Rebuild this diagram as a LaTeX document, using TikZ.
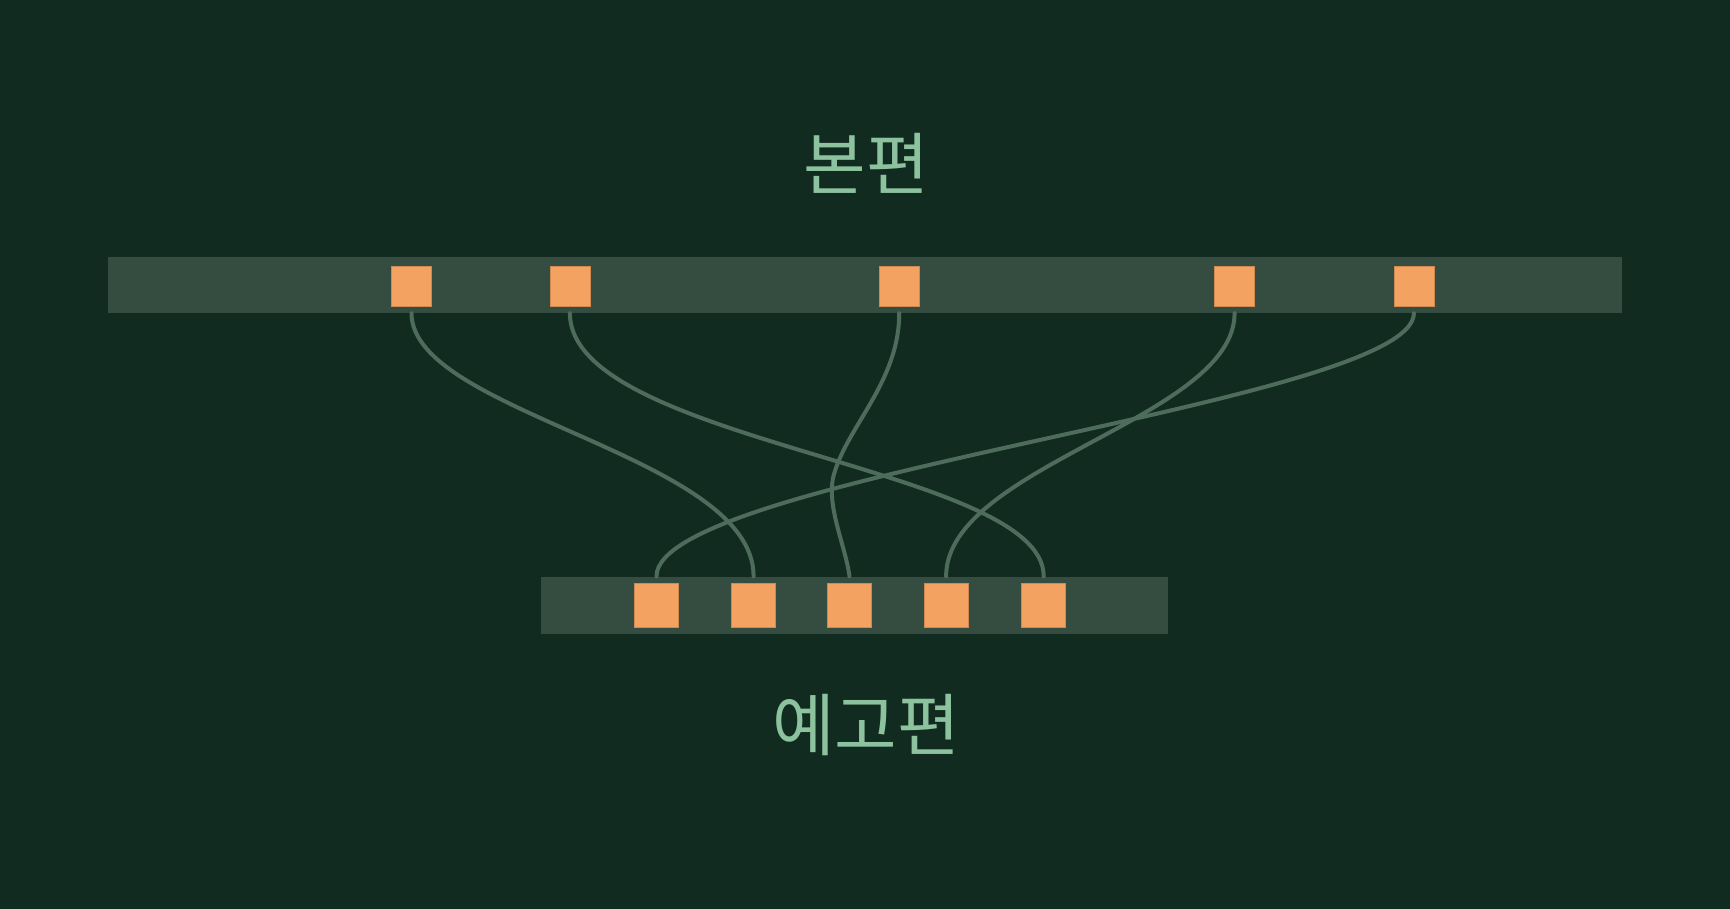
\documentclass[tikz,border=0pt]{standalone}
\usepackage{fontspec}
\newfontfamily\kor{Noto Sans CJK KR}
\definecolor{bgcol}{RGB}{17,43,32}
\definecolor{trackcol}{RGB}{53,76,64}
\definecolor{shotcol}{RGB}{244,162,97}
\definecolor{wirecol}{RGB}{78,108,92}
\definecolor{labelcol}{RGB}{140,194,158}
\tikzset{
  track/.style={fill=trackcol, inner sep=0pt},
  shot/.style={fill=shotcol, draw=shotcol!85!black, line width=0.6pt, inner sep=0pt},
  link/.style={draw=wirecol, line width=4pt, line cap=round},
  caption/.style={text=labelcol, font=\kor\fontsize{68}{76}\selectfont}
}
\begin{document}
\begin{tikzpicture}[x=1pt,y=-1pt]
\fill[bgcol] (0,0) rectangle (1730,909);
\useasboundingbox (0,0) rectangle (1730,909);
\node[caption] (maintitle) at (866,163) {본편};
\node[caption] (trailertitle) at (866,725) {예고편};
\node[track, minimum width=1514pt, minimum height=56pt] (main) at (865,285) {};
\node[track, minimum width=627pt, minimum height=57pt] (trailer) at (854,605) {};
\foreach \x [count=\i] in {411.5,569.9,899.2,1234.6,1413.9}
  \node[shot, minimum size=40pt] (t\i) at (\x,286) {};
\foreach \x [count=\i] in {656.5,753.6,849.5,946.1,1043.7}
  \node[shot, minimum size=44pt] (b\i) at (\x,605) {};
\coordinate (bend) at (833,478);
\draw[link] (t1 |- main.south) .. controls +(0,100) and +(0,-121) .. (b2 |- trailer.north);
\draw[link] (t2 |- main.south) .. controls +(0,130) and +(0,-110) .. (b5 |- trailer.north);
\draw[link] (t3 |- main.south) .. controls +(0,70) and +(12,-50) .. (bend)
  .. controls +(-6,30) and +(-4,-30) .. (b3 |- trailer.north);
\draw[link] (t4 |- main.south) .. controls +(0,105) and +(0,-110) .. (b4 |- trailer.north);
\draw[link] (t5 |- main.south) .. controls +(0,90) and +(0,-100) .. (b1 |- trailer.north);
\end{tikzpicture}
\end{document}
